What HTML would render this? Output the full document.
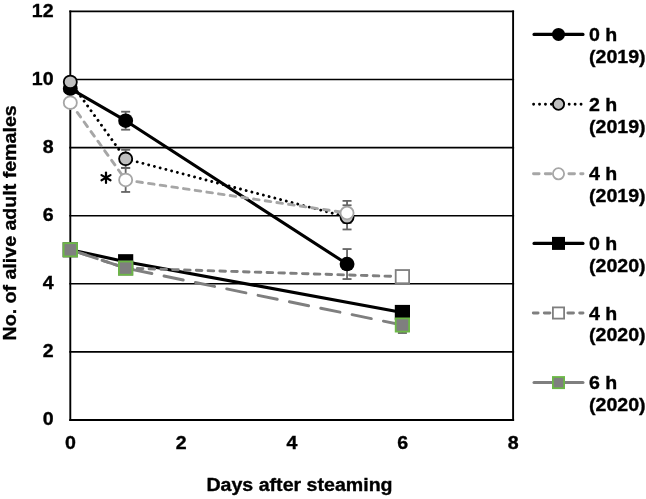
<!DOCTYPE html>
<html><head><meta charset="utf-8"><style>
html,body{margin:0;padding:0;background:#fff;}
body{width:646px;height:499px;overflow:hidden;}
svg{display:block;will-change:transform;}
.t{font-family:"Liberation Sans",sans-serif;font-weight:bold;font-size:18.4px;fill:#000;stroke:#000;stroke-width:0.35px;}
</style></head><body>
<svg width="646" height="499" viewBox="0 0 646 499">
<line x1="69.3" y1="351.90" x2="514.1" y2="351.90" stroke="#000" stroke-width="1.6"/>
<line x1="69.3" y1="283.80" x2="514.1" y2="283.80" stroke="#000" stroke-width="1.6"/>
<line x1="69.3" y1="215.70" x2="514.1" y2="215.70" stroke="#000" stroke-width="1.6"/>
<line x1="69.3" y1="147.60" x2="514.1" y2="147.60" stroke="#000" stroke-width="1.6"/>
<line x1="69.3" y1="79.50" x2="514.1" y2="79.50" stroke="#000" stroke-width="1.6"/>
<line x1="69.3" y1="11.40" x2="514.1" y2="11.40" stroke="#000" stroke-width="1.6"/>
<line x1="70.30" y1="10.60" x2="70.30" y2="421.00" stroke="#000" stroke-width="1.9"/>
<line x1="513.10" y1="10.60" x2="513.10" y2="421.00" stroke="#000" stroke-width="1.9"/>
<line x1="69.3" y1="420.00" x2="514.1" y2="420.00" stroke="#000" stroke-width="2.2"/>
<text transform="translate(53.60,425.40) scale(1.065,1)" text-anchor="end" class="t">0</text>
<text transform="translate(53.60,357.30) scale(1.065,1)" text-anchor="end" class="t">2</text>
<text transform="translate(53.60,289.20) scale(1.065,1)" text-anchor="end" class="t">4</text>
<text transform="translate(53.60,221.10) scale(1.065,1)" text-anchor="end" class="t">6</text>
<text transform="translate(53.60,153.00) scale(1.065,1)" text-anchor="end" class="t">8</text>
<text transform="translate(53.60,84.90) scale(1.065,1)" text-anchor="end" class="t">10</text>
<text transform="translate(53.60,16.80) scale(1.065,1)" text-anchor="end" class="t">12</text>
<text transform="translate(70.50,449.30) scale(1.065,1)" text-anchor="middle" class="t">0</text>
<text transform="translate(181.20,449.30) scale(1.065,1)" text-anchor="middle" class="t">2</text>
<text transform="translate(291.90,449.30) scale(1.065,1)" text-anchor="middle" class="t">4</text>
<text transform="translate(402.60,449.30) scale(1.065,1)" text-anchor="middle" class="t">6</text>
<text transform="translate(513.30,449.30) scale(1.065,1)" text-anchor="middle" class="t">8</text>
<text transform="translate(299.50,491.20) scale(1.065,1)" text-anchor="middle" class="t">Days after steaming</text>
<text transform="translate(16.10,222.90) rotate(-90) scale(1.065,1)" text-anchor="middle" class="t">No. of alive adult females</text>
<polyline points="70.30,88.69 125.65,120.70 347.05,264.05" fill="none" stroke="#000" stroke-width="3.1" stroke-linecap="round" stroke-linejoin="round"/>
<polyline points="70.30,81.88 125.65,158.84 347.05,217.06" fill="none" stroke="#000" stroke-width="2.9" stroke-dasharray="0.01 5.92" stroke-dashoffset="0" stroke-linecap="round" stroke-linejoin="round"/>
<polyline points="70.30,102.65 125.65,179.95 347.05,212.98" fill="none" stroke="#a6a6a6" stroke-width="2.9" stroke-dasharray="5.6 6.2" stroke-dashoffset="-0.2" stroke-linecap="round" stroke-linejoin="round"/>
<polyline points="70.30,249.75 125.65,261.67 402.40,312.40" fill="none" stroke="#000" stroke-width="3.1" stroke-linecap="round" stroke-linejoin="round"/>
<polyline points="70.30,249.75 125.65,268.14 402.40,276.65" fill="none" stroke="#7f7f7f" stroke-width="2.9" stroke-dasharray="5.6 6.2" stroke-dashoffset="0.8" stroke-linecap="round" stroke-linejoin="round"/>
<polyline points="70.30,249.75 125.65,268.14 402.40,325.00" fill="none" stroke="#7f7f7f" stroke-width="2.9" stroke-dasharray="19.6 12.4" stroke-dashoffset="-1.5" stroke-linecap="round" stroke-linejoin="round"/>
<line x1="125.65" y1="111.70" x2="125.65" y2="129.70" stroke="#646464" stroke-width="1.8"/><line x1="121.15" y1="111.70" x2="130.15" y2="111.70" stroke="#646464" stroke-width="1.8"/><line x1="121.15" y1="129.70" x2="130.15" y2="129.70" stroke="#646464" stroke-width="1.8"/>
<line x1="347.05" y1="249.05" x2="347.05" y2="279.05" stroke="#646464" stroke-width="1.8"/><line x1="342.55" y1="249.05" x2="351.55" y2="249.05" stroke="#646464" stroke-width="1.8"/><line x1="342.55" y1="279.05" x2="351.55" y2="279.05" stroke="#646464" stroke-width="1.8"/>
<line x1="125.65" y1="149.84" x2="125.65" y2="167.84" stroke="#646464" stroke-width="1.8"/><line x1="121.15" y1="149.84" x2="130.15" y2="149.84" stroke="#646464" stroke-width="1.8"/><line x1="121.15" y1="167.84" x2="130.15" y2="167.84" stroke="#646464" stroke-width="1.8"/>
<line x1="347.05" y1="205.26" x2="347.05" y2="229.46" stroke="#646464" stroke-width="1.8"/><line x1="342.55" y1="205.26" x2="351.55" y2="205.26" stroke="#646464" stroke-width="1.8"/><line x1="342.55" y1="229.46" x2="351.55" y2="229.46" stroke="#646464" stroke-width="1.8"/>
<line x1="125.65" y1="167.95" x2="125.65" y2="191.95" stroke="#646464" stroke-width="1.8"/><line x1="121.15" y1="167.95" x2="130.15" y2="167.95" stroke="#646464" stroke-width="1.8"/><line x1="121.15" y1="191.95" x2="130.15" y2="191.95" stroke="#646464" stroke-width="1.8"/>
<line x1="347.05" y1="200.88" x2="347.05" y2="222.98" stroke="#646464" stroke-width="1.8"/><line x1="342.55" y1="200.88" x2="351.55" y2="200.88" stroke="#646464" stroke-width="1.8"/><line x1="342.55" y1="222.98" x2="351.55" y2="222.98" stroke="#646464" stroke-width="1.8"/>
<line x1="402.40" y1="317.00" x2="402.40" y2="333.00" stroke="#646464" stroke-width="1.8"/><line x1="397.90" y1="317.00" x2="406.90" y2="317.00" stroke="#646464" stroke-width="1.8"/><line x1="397.90" y1="333.00" x2="406.90" y2="333.00" stroke="#646464" stroke-width="1.8"/>
<ellipse cx="70.30" cy="88.69" rx="7.45" ry="7.25" fill="#000"/>
<ellipse cx="125.65" cy="120.70" rx="7.45" ry="7.25" fill="#000"/>
<ellipse cx="347.05" cy="264.05" rx="7.45" ry="7.25" fill="#000"/>
<ellipse cx="70.30" cy="81.88" rx="6.55" ry="6.35" fill="#bfbfbf" stroke="#000" stroke-width="1.8"/>
<ellipse cx="125.65" cy="158.84" rx="6.55" ry="6.35" fill="#bfbfbf" stroke="#000" stroke-width="1.8"/>
<ellipse cx="347.05" cy="217.06" rx="6.55" ry="6.35" fill="#bfbfbf" stroke="#000" stroke-width="1.8"/>
<ellipse cx="70.30" cy="102.65" rx="6.55" ry="6.35" fill="#fff" stroke="#a6a6a6" stroke-width="1.8"/>
<ellipse cx="125.65" cy="179.95" rx="6.55" ry="6.35" fill="#fff" stroke="#a6a6a6" stroke-width="1.8"/>
<ellipse cx="347.05" cy="212.98" rx="6.55" ry="6.35" fill="#fff" stroke="#a6a6a6" stroke-width="1.8"/>
<rect x="62.70" y="242.25" width="15.20" height="15.00" fill="#000"/>
<rect x="118.05" y="254.17" width="15.20" height="15.00" fill="#000"/>
<rect x="394.80" y="304.90" width="15.20" height="15.00" fill="#000"/>
<rect x="63.60" y="243.15" width="13.40" height="13.20" fill="#fff" stroke="#7f7f7f" stroke-width="1.8"/>
<rect x="118.95" y="261.54" width="13.40" height="13.20" fill="#fff" stroke="#7f7f7f" stroke-width="1.8"/>
<rect x="395.70" y="270.05" width="13.40" height="13.20" fill="#fff" stroke="#7f7f7f" stroke-width="1.8"/>
<rect x="63.60" y="243.15" width="13.40" height="13.20" fill="#7f7f7f" stroke="#6cb846" stroke-width="1.8"/>
<rect x="118.95" y="261.54" width="13.40" height="13.20" fill="#7f7f7f" stroke="#6cb846" stroke-width="1.8"/>
<rect x="395.70" y="318.40" width="13.40" height="13.20" fill="#7f7f7f" stroke="#6cb846" stroke-width="1.8"/>
<line x1="106.00" y1="172.50" x2="106.00" y2="182.90" stroke="#000" stroke-width="2.2" stroke-linecap="round"/><line x1="101.50" y1="175.10" x2="110.50" y2="180.30" stroke="#000" stroke-width="2.2" stroke-linecap="round"/><line x1="101.50" y1="180.30" x2="110.50" y2="175.10" stroke="#000" stroke-width="2.2" stroke-linecap="round"/>
<line x1="534" y1="34.40" x2="583" y2="34.40" stroke="#000" stroke-width="3.1" stroke-linecap="round"/>
<ellipse cx="558.50" cy="34.40" rx="6.5" ry="6.5" fill="#000"/>
<text transform="translate(589.00,41.00) scale(1.065,1)" text-anchor="start" class="t">0 h</text>
<text transform="translate(589.00,62.70) scale(1.065,1)" text-anchor="start" class="t">(2019)</text>
<line x1="533.6" y1="104.20" x2="583" y2="104.20" stroke="#000" stroke-width="2.9" stroke-dasharray="0.01 5.92" stroke-dashoffset="0" stroke-linecap="round"/>
<ellipse cx="558.50" cy="104.20" rx="5.60" ry="5.60" fill="#bfbfbf" stroke="#000" stroke-width="1.8"/>
<text transform="translate(589.00,110.80) scale(1.065,1)" text-anchor="start" class="t">2 h</text>
<text transform="translate(589.00,132.50) scale(1.065,1)" text-anchor="start" class="t">(2019)</text>
<line x1="533.3" y1="173.80" x2="583" y2="173.80" stroke="#a6a6a6" stroke-width="2.9" stroke-dasharray="5.6 6.2" stroke-dashoffset="-0.2" stroke-linecap="round"/>
<ellipse cx="558.50" cy="173.80" rx="5.60" ry="5.60" fill="#fff" stroke="#a6a6a6" stroke-width="1.8"/>
<text transform="translate(589.00,180.40) scale(1.065,1)" text-anchor="start" class="t">4 h</text>
<text transform="translate(589.00,202.10) scale(1.065,1)" text-anchor="start" class="t">(2019)</text>
<line x1="534" y1="243.40" x2="583" y2="243.40" stroke="#000" stroke-width="3.1" stroke-linecap="round"/>
<rect x="552.00" y="236.90" width="13.00" height="13.00" fill="#000"/>
<text transform="translate(589.00,250.00) scale(1.065,1)" text-anchor="start" class="t">0 h</text>
<text transform="translate(589.00,271.70) scale(1.065,1)" text-anchor="start" class="t">(2020)</text>
<line x1="533.3" y1="313.00" x2="583" y2="313.00" stroke="#7f7f7f" stroke-width="2.9" stroke-dasharray="5.6 6.2" stroke-dashoffset="0.8" stroke-linecap="round"/>
<rect x="552.90" y="307.40" width="11.20" height="11.20" fill="#fff" stroke="#7f7f7f" stroke-width="1.8"/>
<text transform="translate(589.00,319.60) scale(1.065,1)" text-anchor="start" class="t">4 h</text>
<text transform="translate(589.00,341.30) scale(1.065,1)" text-anchor="start" class="t">(2020)</text>
<line x1="534" y1="382.60" x2="583" y2="382.60" stroke="#7f7f7f" stroke-width="3" stroke-linecap="round"/>
<rect x="552.90" y="377.00" width="11.20" height="11.20" fill="#7f7f7f" stroke="#6cb846" stroke-width="1.8"/>
<text transform="translate(589.00,389.20) scale(1.065,1)" text-anchor="start" class="t">6 h</text>
<text transform="translate(589.00,410.90) scale(1.065,1)" text-anchor="start" class="t">(2020)</text>
</svg>
</body></html>
